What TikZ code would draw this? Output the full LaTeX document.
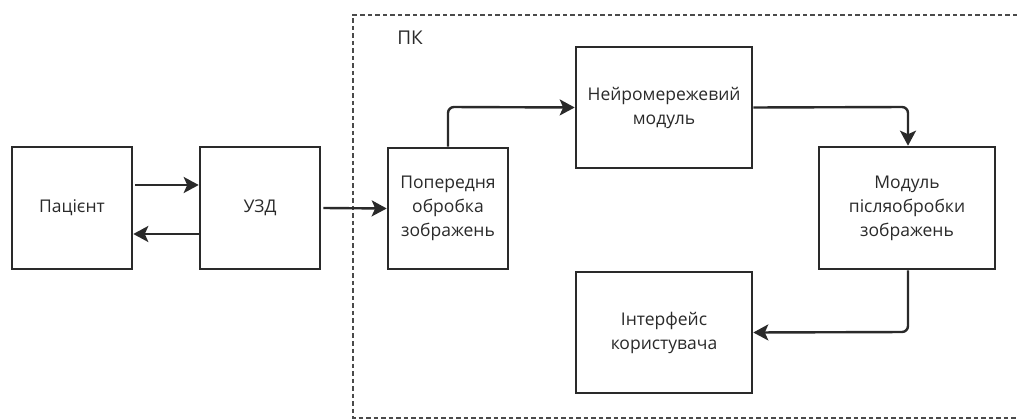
\documentclass[tikz,border=0pt]{standalone}
\usepackage{fontspec}
\setmainfont{Open Sans}
\usetikzlibrary{arrows.meta}
\definecolor{ink}{HTML}{2A2A2A}
\definecolor{dashc}{HTML}{4A4A4A}
\tikzset{
  blk/.style={draw=ink, line width=2.6pt, fill=white, align=center, text=ink,
    font=\fontsize{17.5}{24}\selectfont, inner sep=2pt},
  arr/.style={draw=ink, line width=2.4pt, rounded corners=6pt,
    -{Stealth[length=15pt,width=16pt,inset=3.5pt]}},
  frame/.style={draw=dashc, line width=1.2pt, dash pattern=on 4.5pt off 3pt}
}
\begin{document}
\begin{tikzpicture}[x=1pt,y=-1pt]
\useasboundingbox (0,0) rectangle (1017,419);
\draw[frame] (1017,15) -- (353,15) -- (353,418) -- (1017,418);
\node[text=ink, font=\fontsize{19}{22}\selectfont] (pk) at (410,38) {ПК};
\node[blk, minimum width=120pt, minimum height=122pt] (pat) at (72,208) {Пацієнт};
\node[blk, minimum width=120pt, minimum height=122pt] (uzd) at (260,208) {УЗД};
\node[blk, minimum width=120pt, minimum height=121pt] (pre) at (448,208.5) {Попередня\\обробка\\зображень};
\node[blk, minimum width=176pt, minimum height=121pt] (nn) at (664,107.5) {Нейромережевий\\модуль};
\node[blk, minimum width=176pt, minimum height=122pt] (post) at (907,208) {Модуль\\післяобробки\\зображень};
\node[blk, minimum width=176pt, minimum height=121pt] (ui) at (664,332.5) {Інтерфейс\\користувача};
\coordinate (c1) at (448,107);
\coordinate (c2) at (908,107);
\coordinate (c3) at (908,332);
\draw[arr] ([yshift=23pt,xshift=2pt]pat.east) -- ([yshift=23pt]uzd.west);
\draw[arr] ([yshift=-26pt]uzd.west) -- ([yshift=-26pt]pat.east);
\draw[arr] ([xshift=2pt]uzd.east) -- (pre.west);
\draw[arr] (pre.north) -- (c1) -- (nn.west);
\draw[arr] (nn.east) -- (c2) -- ([xshift=1pt]post.north);
\draw[arr] ([xshift=1pt]post.south) -- (c3) -- (ui.east);
\end{tikzpicture}
\end{document}
